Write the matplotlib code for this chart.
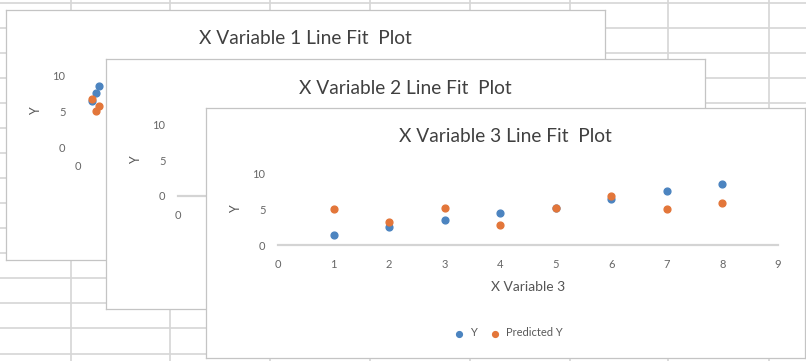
import matplotlib.pyplot as plt

# observations shared by the three regression plots
y_obs = [1.4, 2.45, 3.45, 4.5, 5.2, 6.4, 7.5, 8.5]

# X Variable 1 (mostly hidden behind the other charts)
x_var1 = [24, 30, 18, 12, 6, 1.1, 1.45, 1.7]
pred_y1 = [3.0, 2.2, 3.8, 4.5, 5.0, 6.7, 5.1, 5.7]

# X Variable 2 (hidden behind chart 3)
x_var2 = [2, 5, 3, 7, 4, 6, 8, 9]
pred_y2 = [2.1, 4.2, 3.0, 5.8, 4.4, 6.1, 7.0, 7.9]

# X Variable 3 (front chart)
x_var3 = [1, 2, 3, 4, 5, 6, 7, 8]
pred_y3 = [5.1, 3.2, 5.2, 2.75, 5.2, 6.85, 5.1, 5.9]

titles = ['X Variable 1 Line Fit  Plot', 'X Variable 2 Line Fit  Plot', 'X Variable 3 Line Fit  Plot']
xlabels = ['X Variable 1', 'X Variable 2', 'X Variable 3']
x_limits = [40, 10, 9]
# only the ticks that are not covered by the next chart window
x_ticks = [[0], [0], list(range(0, 10))]
y_ticks = [0, 5, 10]

# spreadsheet grid behind the charts (pixel positions)
grid_cols = [71, 170, 270, 370, 470, 570, 668, 769]
grid_rows = [3, 28, 53, 78, 103, 128, 153, 178, 203, 228, 253, 278, 303, 328, 354]

W, H = 806, 361
BLUE = '#4C84C0'
ORANGE = '#E3763A'
FONT = 'Lato'


def fx(px):
    return px / W


def fy(py):
    return 1 - py / H


fig = plt.figure(figsize=(W / 100, H / 100), dpi=100)
fig.patch.set_facecolor('white')

bg = fig.add_axes([0, 0, 1, 1], zorder=0)
bg.set_xlim(0, W)
bg.set_ylim(H, 0)
bg.axis('off')
for c in grid_cols:
    bg.axvline(c, color='#d6d6d6', lw=1.2)
for r in grid_rows:
    bg.axhline(r, color='#d6d6d6', lw=1.2)

series = [(x_var1, pred_y1), (x_var2, pred_y2), (x_var3, pred_y3)]

for k, (xs, preds) in enumerate(series):
    dx, dy = 100 * k, 49 * k
    front = k == len(series) - 1

    # white chart window
    card = fig.add_axes([fx(6 + dx), fy(260 + dy), 599 / W, 250 / H], zorder=2 * k + 1)
    card.set_facecolor('white')
    card.set_xticks([])
    card.set_yticks([])
    for sp in card.spines.values():
        sp.set_color('#c4c4c4')
        sp.set_linewidth(0.9)
    card.text(0.5, 1 - 29 / 250, titles[k], transform=card.transAxes, ha='center', va='center',
              fontsize=13.8, color='#404040', family=FONT)

    # plot area
    ax = fig.add_axes([fx(78 + dx), fy(147 + dy), 500 / W, 71.5 / H], zorder=2 * k + 2)
    ax.patch.set_alpha(0)
    ax.scatter(xs, y_obs, s=24, color=BLUE, label='Y', zorder=3)
    ax.scatter(xs, preds, s=24, color=ORANGE, label='Predicted Y', zorder=4)
    ax.set_xlim(0, x_limits[k])
    ax.set_ylim(0, 10)
    ax.set_xticks(x_ticks[k])
    ax.set_yticks(y_ticks)
    for side in ['top', 'right', 'left']:
        ax.spines[side].set_visible(False)
    if k == 0:
        ax.spines['bottom'].set_visible(False)
    ax.spines['bottom'].set_color('#d4d4d4')
    ax.spines['bottom'].set_linewidth(1.6)
    ax.tick_params(axis='x', length=0, pad=10, labelsize=8, labelcolor='#666666')
    ax.tick_params(axis='y', length=0, pad=9, labelsize=8, labelcolor='#666666')
    for lab in ax.get_xticklabels() + ax.get_yticklabels():
        lab.set_family(FONT)
    ax.text(-42 / 500, 0.5, 'Y', transform=ax.transAxes, ha='center', va='center',
            rotation=90, fontsize=9, color='#555555', family=FONT)

    # axis title and legend sit behind the next window for the back charts
    if front:
        ax.text(0.5, -42 / 71.5, xlabels[k], transform=ax.transAxes, ha='center', va='center',
                fontsize=10, color='#555555', family=FONT)
        ax.legend(loc='center', bbox_to_anchor=(0.5, 25 / 250), bbox_transform=card.transAxes,
                  ncol=2, frameon=False, handletextpad=0.0, columnspacing=0.6,
                  prop={'family': FONT, 'size': 8}, labelcolor='#595959', markerscale=0.85)

fig.savefig('out.png', dpi=100)
